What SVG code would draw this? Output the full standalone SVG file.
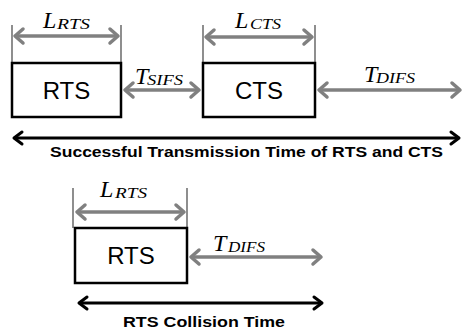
<svg xmlns="http://www.w3.org/2000/svg" width="465" height="332" viewBox="0 0 465 332">
<style>
.box{fill:#fff;stroke:#000;stroke-width:2.5}
.tick{stroke:#444;stroke-width:1.2}
.ga{stroke:#808080;stroke-width:3.5;fill:none;marker-start:url(#gh);marker-end:url(#gh)}
.ba{stroke:#000;stroke-width:3;fill:none;marker-start:url(#bh);marker-end:url(#bh)}
.bt{font-family:"Liberation Sans",Arial,sans-serif;font-size:24px;fill:#000;text-anchor:middle}
.cap{font-family:"Liberation Sans",Arial,sans-serif;font-size:15px;font-weight:bold;fill:#000}
.m{font-family:"Liberation Serif","Times New Roman",serif;font-style:italic;fill:#000;font-size:24px}
.s{font-size:15px}
</style>
<defs>
<marker id="gh" markerUnits="userSpaceOnUse" orient="auto-start-reverse" markerWidth="20" markerHeight="20" refX="0" refY="0" viewBox="-12 -10 14 20" overflow="visible">
<path d="M-8,-7 L0,0 L-8,7" fill="none" stroke="#808080" stroke-width="3.5" stroke-linecap="round" stroke-linejoin="round"/>
</marker>
<marker id="bh" markerUnits="userSpaceOnUse" orient="auto-start-reverse" markerWidth="20" markerHeight="20" refX="0" refY="0" viewBox="-12 -10 14 20" overflow="visible">
<path d="M-8,-6 L0,0 L-8,6" fill="none" stroke="#000" stroke-width="3" stroke-linecap="round" stroke-linejoin="round"/>
</marker>
</defs>
<g id="connectors">
<line class="tick" x1="12" y1="25" x2="12" y2="63"/>
<line class="tick" x1="121" y1="25" x2="121" y2="63"/>
<line class="tick" x1="203" y1="25" x2="203" y2="63"/>
<line class="tick" x1="315" y1="25" x2="315" y2="63"/>
<line class="tick" x1="73" y1="188" x2="73" y2="228"/>
<line class="tick" x1="187" y1="188" x2="187" y2="228"/>
<line class="ga" x1="15" y1="36" x2="118" y2="36"/>
<line class="ga" x1="206" y1="37" x2="312" y2="37"/>
<line class="ga" x1="125" y1="90" x2="199" y2="90"/>
<line class="ga" x1="319" y1="90" x2="460" y2="90"/>
<line class="ga" x1="77" y1="212" x2="184" y2="212"/>
<line class="ga" x1="191" y1="257" x2="321" y2="257"/>
<line class="ba" x1="14" y1="138" x2="459" y2="138"/>
<line class="ba" x1="79" y1="303" x2="322" y2="303"/>
</g>
<g id="rts1">
<rect class="box" x="12" y="63" width="109" height="54"/>
<text class="bt" x="66.5" y="99">RTS</text>
</g>
<g id="cts">
<rect class="box" x="203" y="63" width="112" height="54"/>
<text class="bt" x="259" y="99">CTS</text>
</g>
<g id="rts2">
<rect class="box" x="75" y="228" width="112" height="55"/>
<text class="bt" x="131" y="264">RTS</text>
</g>
<g id="labels">
<text class="m" x="43" y="28">L<tspan class="s" x="57" dy="1" textLength="33" lengthAdjust="spacingAndGlyphs">RTS</tspan></text>
<text class="m" x="235" y="28">L<tspan class="s" x="250" dy="1" textLength="31" lengthAdjust="spacingAndGlyphs">CTS</tspan></text>
<text class="m" x="135" y="84">T<tspan class="s" x="147" dy="1" textLength="36" lengthAdjust="spacingAndGlyphs">SIFS</tspan></text>
<text class="m" x="364" y="82">T<tspan class="s" x="376" dy="1" textLength="39" lengthAdjust="spacingAndGlyphs">DIFS</tspan></text>
<text class="m" x="100" y="197">L<tspan class="s" x="115" dy="1" textLength="32" lengthAdjust="spacingAndGlyphs">RTS</tspan></text>
<text class="m" x="213" y="251">T<tspan class="s" x="228" dy="1" textLength="37" lengthAdjust="spacingAndGlyphs">DIFS</tspan></text>
<text class="cap" x="50" y="157" textLength="393" lengthAdjust="spacingAndGlyphs">Successful Transmission Time of RTS and CTS</text>
<text class="cap" x="123" y="327" textLength="162" lengthAdjust="spacingAndGlyphs">RTS Collision Time</text>
</g>
</svg>
